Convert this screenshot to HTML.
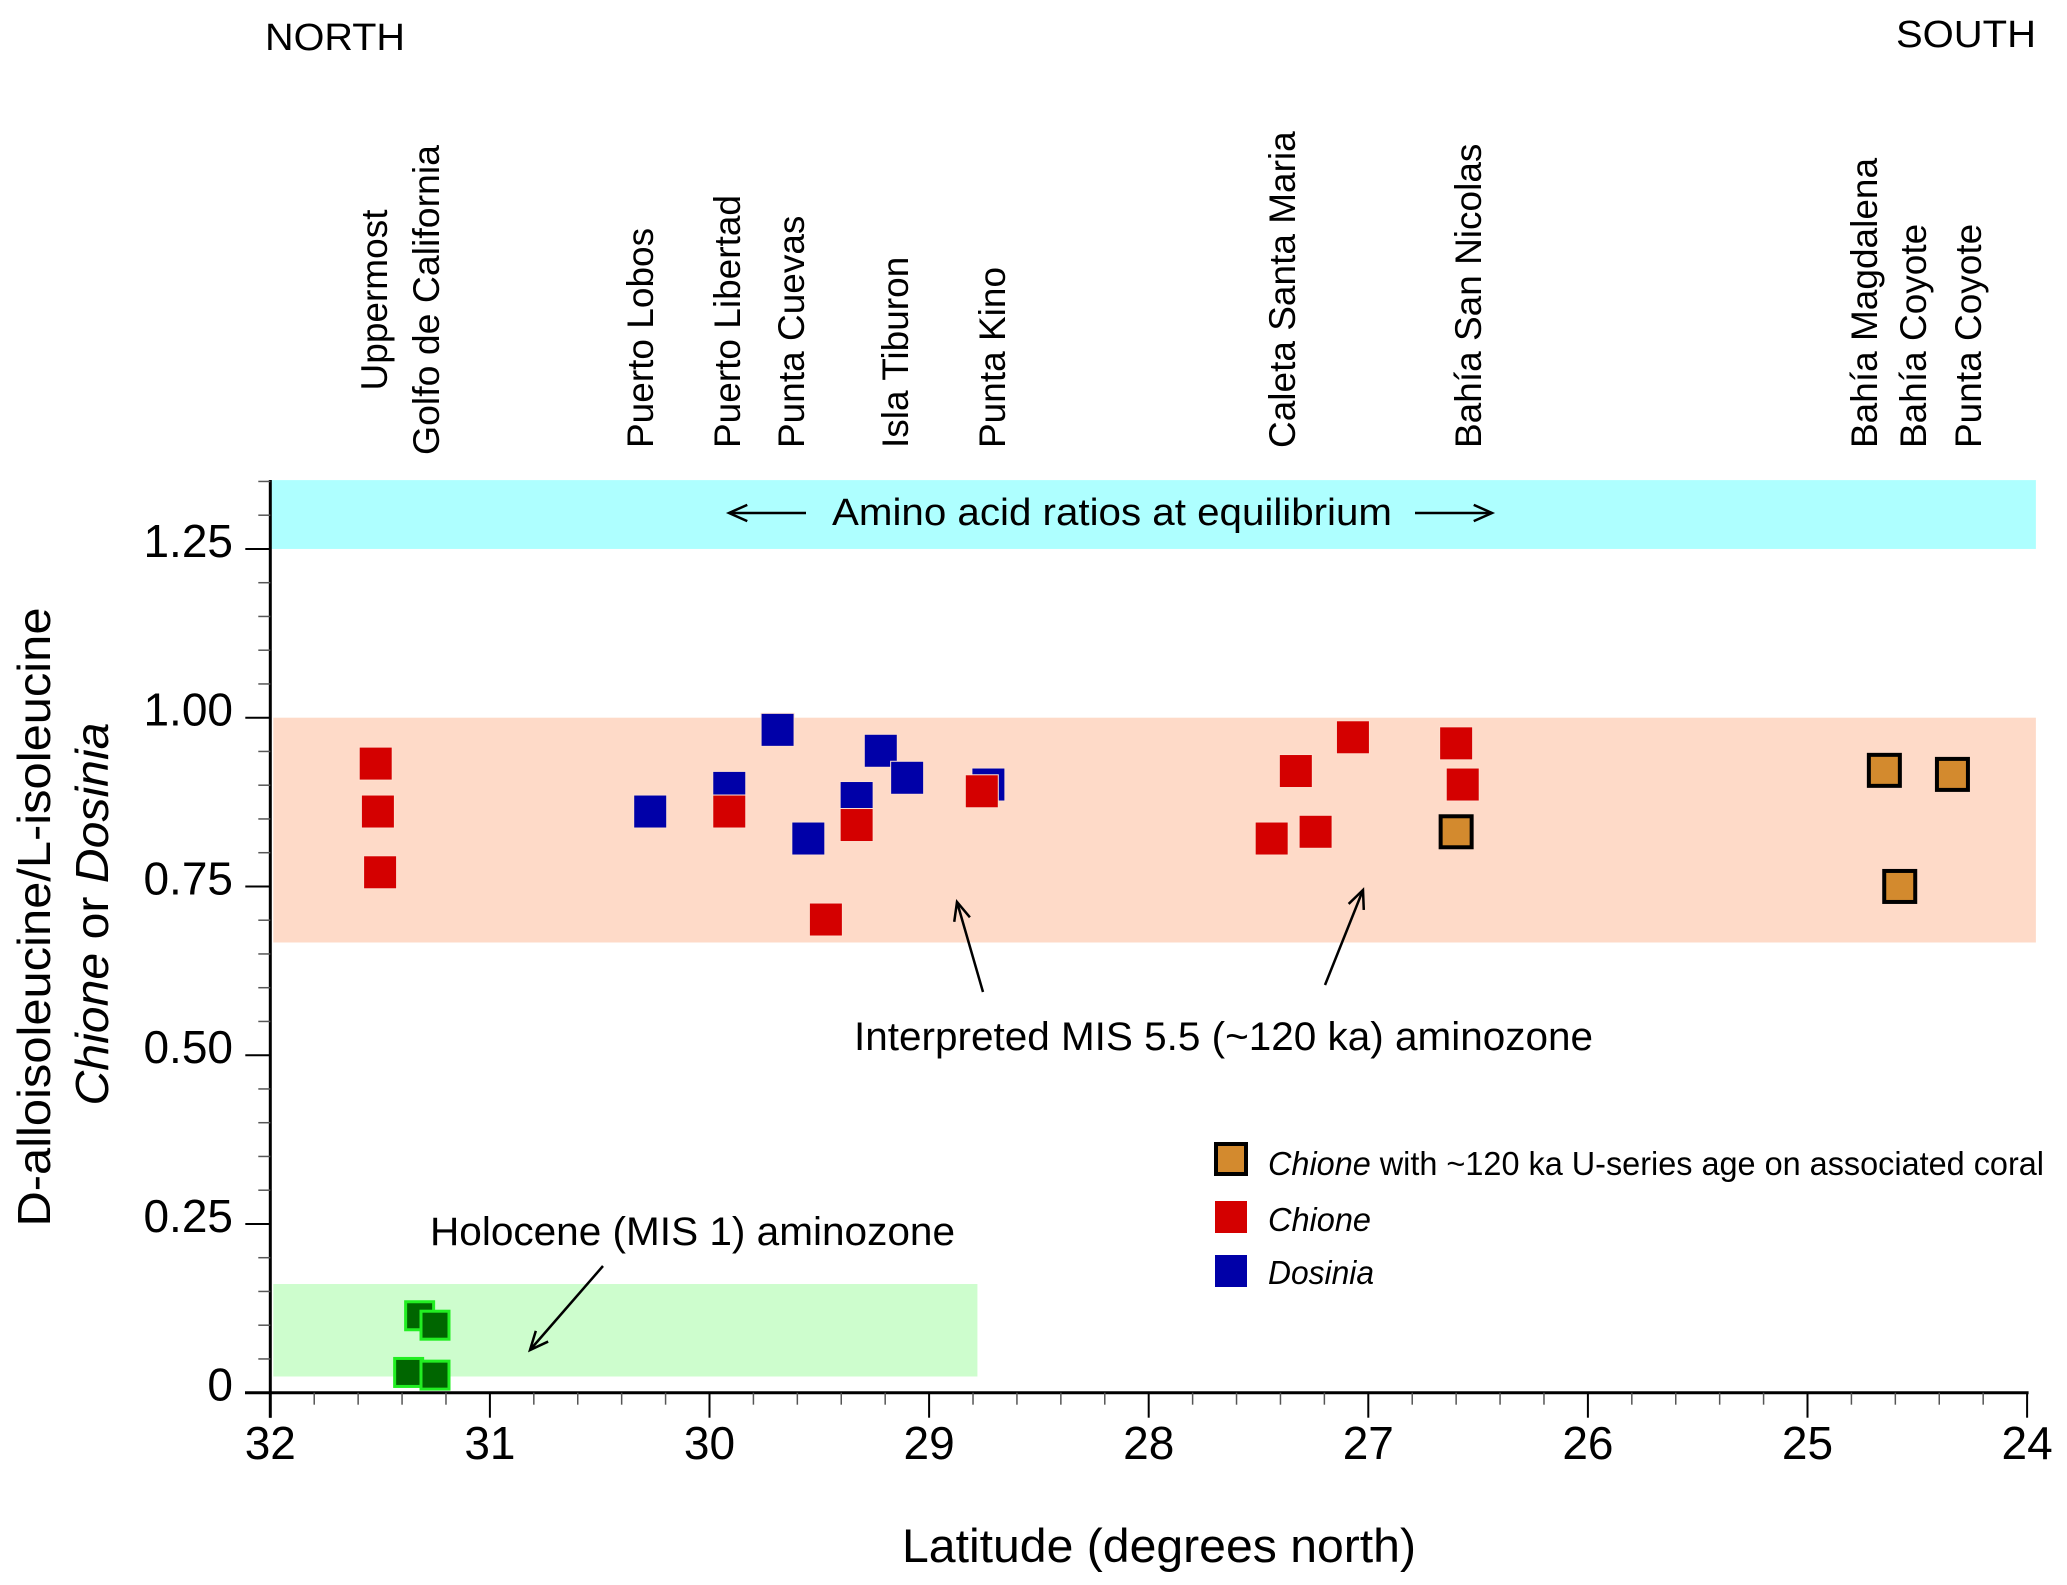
<!DOCTYPE html>
<html><head><meta charset="utf-8"><style>
html,body{margin:0;padding:0;background:#fff}
svg{display:block}
text{font-family:"Liberation Sans",Arial,sans-serif;fill:#000}
</style></head><body>
<svg id="chart" width="2067" height="1585" viewBox="0 0 2067 1585" xmlns="http://www.w3.org/2000/svg">
<g id="bands"></g>
<g id="axes"></g>
<g id="marks"></g>
<g id="labels"></g>
</svg>
<script>
const xTicks=[32,31,30,29,28,27,26,25,24];
const yTicks=[0,0.25,0.5,0.75,1.0,1.25];
const yTickLabels=["0","0.25","0.50","0.75","1.00","1.25"];
const dosiniaLat=[30.27,29.91,29.69,29.55,29.33,29.22,29.10,28.73];
const dosiniaVal=[0.861,0.896,0.982,0.821,0.881,0.951,0.911,0.901];
const chioneLat=[31.52,31.51,31.50,29.91,29.33,29.47,28.76,27.07,27.33,27.44,27.24,26.60,26.57];
const chioneVal=[0.932,0.861,0.771,0.861,0.841,0.701,0.891,0.971,0.921,0.821,0.831,0.962,0.901];
const uSeriesLat=[26.60,24.65,24.34,24.58];
const uSeriesVal=[0.831,0.922,0.916,0.750];
const holoceneLat=[31.32,31.25,31.37,31.25];
const holoceneVal=[0.114,0.100,0.030,0.026];
const siteNames=["Puerto Lobos","Puerto Libertad","Punta Cuevas","Isla Tiburon","Punta Kino","Caleta Santa Maria","Bahía San Nicolas","Bahía Magdalena","Bahía Coyote","Punta Coyote"];
const siteX=[653,740,804,908,1005,1295,1481,1877,1926,1981];

const NS="http://www.w3.org/2000/svg";
const X0=270.3, PXD=219.6, Y0=1392.7, PYU=675;
function xs(lat){return X0+(32-lat)*PXD;}
function ys(v){return Y0-v*PYU;}
function mk(tag,attrs,parent){const e=document.createElementNS(NS,tag);for(const k in attrs)e.setAttribute(k,attrs[k]);parent.appendChild(e);return e;}
const bands=document.getElementById('bands'),axes=document.getElementById('axes'),marks=document.getElementById('marks'),labels=document.getElementById('labels');

let b=mk('rect',{x:xs(32),y:ys(1.352),width:xs(23.96)-xs(32),height:ys(1.25)-ys(1.352),fill:'#aeffff'},bands);


b=mk('rect',{x:xs(32)+3,y:ys(1.0),width:xs(23.96)-xs(32)-3,height:ys(0.667)-ys(1.0),fill:'#fedac8'},bands);


b=mk('rect',{x:xs(32)+3,y:ys(0.161),width:xs(28.78)-xs(32)-3,height:ys(0.024)-ys(0.161),fill:'#cdfdcd'},bands);



let a=mk('line',{x1:X0,y1:480,x2:X0,y2:Y0+25,stroke:'#000','stroke-width':3},axes);


a=mk('line',{x1:245,y1:Y0,x2:xs(24)+1.5,y2:Y0,stroke:'#000','stroke-width':3},axes);


for(let i=0;i<40;i++){const lat=32-i*0.2;const major=i%5===0;const x=xs(lat);
  mk('line',{x1:x,y1:Y0,x2:x,y2:Y0+(major?25:12),stroke:major?'#000':'#555','stroke-width':major?2:1.5},axes);}
mk('line',{x1:xs(24),y1:Y0,x2:xs(24),y2:Y0+25,stroke:'#000','stroke-width':2},axes);
for(let i=0;i<=27;i++){const v=i*0.05;const major=i%5===0;const y=ys(v);
  mk('line',{x1:X0,y1:y,x2:X0-(major?25:12),y2:y,stroke:major?'#000':'#555','stroke-width':major?2:1.5},axes);}
xTicks.forEach((t)=>{const e=mk('text',{x:xs(t),y:1459,'font-size':46,'text-anchor':'middle'},axes);e.textContent=String(t);
  
  });
yTicks.forEach((t,i)=>{const e=mk('text',{x:233,y:ys(t)+8,'font-size':46,'text-anchor':'end'},axes);e.textContent=yTickLabels[i];
  
  });

function sq(lat,v,size,fill,stroke,sw,name){const x=xs(lat),y=ys(v);
  const r=mk('rect',{x:x-size/2,y:y-size/2,width:size,height:size,fill:fill,stroke:stroke,'stroke-width':sw},marks);
  
  }
dosiniaLat.forEach((l,i)=>sq(l,dosiniaVal[i],33,'#0000a8','#fde0d0',1,'dosinia-point'));
chioneLat.forEach((l,i)=>sq(l,chioneVal[i],33,'#d40000','#fde0d0',1,'chione-point'));
uSeriesLat.forEach((l,i)=>sq(l,uSeriesVal[i],31,'#d38a2e','#000',4,'chione-useries-point'));
holoceneLat.forEach((l,i)=>sq(l,holoceneVal[i],28,'#006600','#22ee22',3,'holocene-point'));

function txt(s,attrs,name){const e=mk('text',attrs,labels);e.textContent=s;
  
  return e;}
function arrow(x1,y1,x2,y2,name){const g=mk('g',{},labels);
  
  
  mk('line',{x1:x1,y1:y1,x2:x2,y2:y2,stroke:'#000','stroke-width':2.5},g);
  const ang=Math.atan2(y2-y1,x2-x1),L=20,w=0.42;
  const p=[[x2-L*Math.cos(ang-w),y2-L*Math.sin(ang-w)],[x2,y2],[x2-L*Math.cos(ang+w),y2-L*Math.sin(ang+w)]];
  mk('polyline',{points:p.map(q=>q.join(',')).join(' '),fill:'none',stroke:'#000','stroke-width':2.5},g);}

txt('NORTH',{x:265,y:50,'font-size':38,textLength:140,lengthAdjust:'spacingAndGlyphs'},'north-label');
txt('SOUTH',{x:1896,y:47,'font-size':38,textLength:140,lengthAdjust:'spacingAndGlyphs'},'south-label');
txt('Uppermost',{x:0,y:0,'font-size':37,'text-anchor':'middle',transform:'translate(387,300) rotate(-90)'},'site-label');
txt('Golfo de California',{x:0,y:0,'font-size':37,'text-anchor':'middle',textLength:310,lengthAdjust:'spacingAndGlyphs',transform:'translate(439,300) rotate(-90)'},'site-label');
siteNames.forEach((n,i)=>{txt(n,{x:0,y:0,'font-size':37,transform:'translate('+siteX[i]+',448) rotate(-90)'},'site-label');});

txt('Amino acid ratios at equilibrium',{x:832,y:525,'font-size':38,textLength:560,lengthAdjust:'spacingAndGlyphs'},'equilibrium-annotation');
arrow(806,513,729,513,'equilibrium-arrow-left');
arrow(1415,513,1492,513,'equilibrium-arrow-right');
txt('Interpreted MIS 5.5 (~120 ka) aminozone',{x:854,y:1050,'font-size':40,textLength:739,lengthAdjust:'spacingAndGlyphs'},'mis-annotation');
arrow(983,992,957,902,'mis-arrow-1');
arrow(1325,985,1363,890,'mis-arrow-2');
txt('Holocene (MIS 1) aminozone',{x:430,y:1245,'font-size':40,textLength:525,lengthAdjust:'spacingAndGlyphs'},'holocene-annotation');
arrow(603,1266,530,1350,'holocene-arrow');

txt('Latitude (degrees north)',{x:902,y:1562,'font-size':47,textLength:514,lengthAdjust:'spacingAndGlyphs'},'x-axis-title');
txt('D-alloisoleucine/L-isoleucine',{x:0,y:0,'font-size':46,'text-anchor':'middle',textLength:619,lengthAdjust:'spacingAndGlyphs',transform:'translate(50,917) rotate(-90)'},'y-axis-title');
const yt2=txt('',{x:0,y:0,'font-size':46,'text-anchor':'middle',textLength:383,lengthAdjust:'spacingAndGlyphs',transform:'translate(108,914) rotate(-90)'},'y-axis-subtitle');
yt2.innerHTML='<tspan font-style="italic">Chione</tspan> or <tspan font-style="italic">Dosinia</tspan>';

const lg=mk('g',{},labels);


let r=mk('rect',{x:1216,y:1144,width:30,height:30,fill:'#d38a2e',stroke:'#000','stroke-width':4},lg);


r=mk('rect',{x:1215,y:1201,width:32,height:32,fill:'#d40000'},lg);


r=mk('rect',{x:1215,y:1255,width:32,height:32,fill:'#0000a8'},lg);


let t=mk('text',{x:1268,y:1175,'font-size':33,textLength:776,lengthAdjust:'spacingAndGlyphs'},lg);
t.innerHTML='<tspan font-style="italic">Chione</tspan> with ~120 ka U-series age on associated coral';


t=mk('text',{x:1268,y:1231,'font-size':33,'font-style':'italic',textLength:103,lengthAdjust:'spacingAndGlyphs'},lg);
t.textContent='Chione';


t=mk('text',{x:1268,y:1284,'font-size':33,'font-style':'italic',textLength:106,lengthAdjust:'spacingAndGlyphs'},lg);
t.textContent='Dosinia';


</script>
</body></html>
